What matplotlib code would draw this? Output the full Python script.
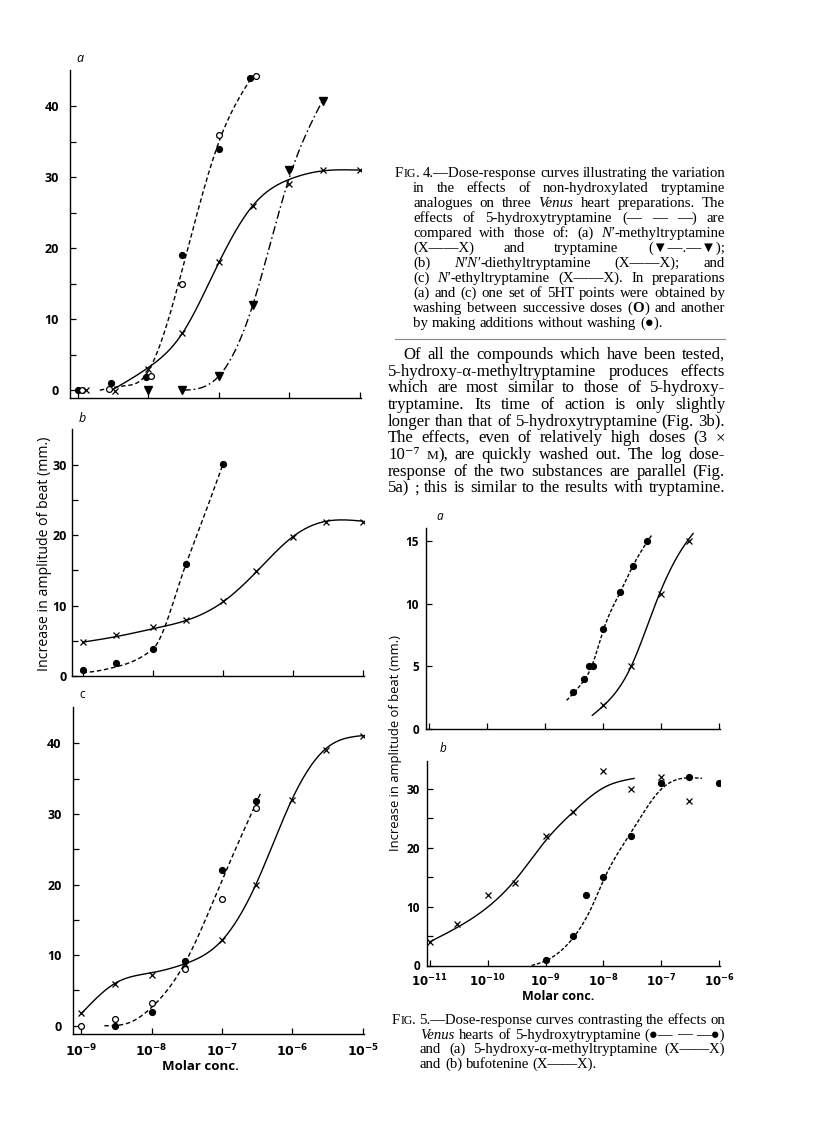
import numpy as np
import matplotlib
matplotlib.use('Agg')
import matplotlib.pyplot as plt
from matplotlib.ticker import FixedLocator, NullFormatter, FixedFormatter

# ---------------- DATA ----------------
# Fig. 4a
a_5ht_fill_x = [1e-9, 2.9e-9, 0.93e-8, 3e-8, 1e-7, 2.75e-7]
a_5ht_fill_y = [0, 1, 1.9, 19, 34, 44]
a_5ht_open_x = [1.14e-9, 2.8e-9, 1.1e-8, 3e-8, 1e-7, 3.3e-7]
a_5ht_open_y = [0, 0.1, 2, 15, 36, 44.2]
a_meth_x = [1.3e-9, 3.3e-9, 1e-8, 3e-8, 1e-7, 3e-7, 1e-6, 3e-6, 1e-5]
a_meth_y = [0, -0.1, 3, 8, 18, 26, 29, 31, 31]
a_tryp_x = [1e-8, 3e-8, 1e-7, 3e-7, 1e-6, 3e-6]
a_tryp_y = [0, 0, 2, 12, 31, 40.8]
# curve knots (log10 dose, response)
a_5ht_curve_lx = [-8.69, -8.35, -8.05, -7.85, -7.52, -7.0, -6.52]
a_5ht_curve_y = [0, 0.6, 2.0, 6.0, 17.0, 35.0, 44.3]
a_meth_curve_lx = [-8.52, -8.0, -7.52, -7.0, -6.52, -6.0, -5.52, -5.0]
a_meth_curve_y = [0, 3.2, 8.0, 18.0, 26.0, 29.7, 30.9, 31.0]
a_tryp_curve_lx = [-7.52, -7.0, -6.52, -6.0, -5.52]
a_tryp_curve_y = [0, 2, 12, 30, 41]

# Fig. 4b
b_5ht_x = [1e-9, 3e-9, 1e-8, 3e-8, 1e-7]
b_5ht_y = [0.8, 1.9, 3.8, 15.9, 30.1]
b_diet_x = [1e-9, 3e-9, 1e-8, 3e-8, 1e-7, 3e-7, 1e-6, 3e-6, 1e-5]
b_diet_y = [4.8, 5.8, 6.9, 8.0, 10.6, 14.9, 19.8, 21.9, 21.9]
b_5ht_curve_lx = [-9.0, -8.52, -8.0, -7.52, -7.0]
b_5ht_curve_y = [0.5, 1.3, 3.8, 16.0, 30.0]
b_diet_curve_lx = [-9.0, -8.52, -8.0, -7.52, -7.0, -6.52, -6.0, -5.52, -5.0]
b_diet_curve_y = [4.8, 5.6, 6.7, 7.9, 10.5, 14.8, 19.8, 22.0, 22.0]

# Fig. 4c
c_5ht_open_x = [1e-9, 3e-9, 1e-8, 3e-8, 1e-7, 3e-7]
c_5ht_open_y = [0, 0.9, 3.2, 8.1, 18, 30.8]
c_5ht_fill_x = [3e-9, 1e-8, 3e-8, 1e-7, 3e-7]
c_5ht_fill_y = [0, 1.9, 9.2, 22, 31.9]
c_eth_x = [1e-9, 3e-9, 1e-8, 3e-8, 1e-7, 3e-7, 1e-6, 3e-6, 1e-5]
c_eth_y = [1.75, 5.9, 7.2, 8.8, 12.1, 20, 32, 39, 41.1]
c_5ht_curve_lx = [-8.67, -8.3, -8.0, -7.52, -7.0, -6.45]
c_5ht_curve_y = [0, 0.5, 2.6, 9.0, 20.6, 33.0]
c_eth_curve_lx = [-9.0, -8.52, -8.0, -7.52, -7.0, -6.52, -6.0, -5.52, -5.0]
c_eth_curve_y = [1.7, 6.0, 7.5, 8.8, 12.1, 20.0, 32.2, 39.3, 41.1]

# Fig. 5a
r_a_5ht_x = [3e-9, 4.7e-9, 5.7e-9, 6.6e-9, 1e-8, 1.95e-8, 3.2e-8, 5.7e-8]
r_a_5ht_y = [3, 4, 5, 5, 8, 10.9, 13, 15]
r_a_amt_x = [1e-8, 3e-8, 1e-7, 3e-7]
r_a_amt_y = [1.9, 5, 10.8, 15]
r_a_5ht_curve_lx = [-8.63, -8.33, -8.2, -7.99, -7.71, -7.49, -7.16]
r_a_5ht_curve_y = [2.3, 3.9, 5.0, 8.0, 10.9, 13.0, 15.5]
r_a_amt_curve_lx = [-8.19, -7.99, -7.53, -7.03, -6.55, -6.45]
r_a_amt_curve_y = [1.1, 1.9, 4.9, 10.8, 15.0, 15.6]

# Fig. 5b
r_b_buf_x = [1e-11, 3e-11, 1e-10, 3e-10, 1e-9, 3e-9, 1e-8, 3e-8, 1e-7, 3e-7]
r_b_buf_y = [4, 7, 12, 14, 22, 26, 33, 30, 32, 28]
r_b_5ht_x = [1e-9, 3e-9, 5e-9, 1e-8, 3e-8, 1e-7, 3e-7, 1e-6]
r_b_5ht_y = [1, 5, 12, 15, 22, 31, 32, 31]
r_b_buf_curve_lx = [-11.0, -10.5, -10.0, -9.5, -9.0, -8.5, -8.0, -7.47]
r_b_buf_curve_y = [4.0, 6.6, 9.9, 14.8, 21.2, 26.3, 30.2, 31.8]
r_b_5ht_curve_lx = [-9.24, -9.0, -8.5, -8.2, -8.0, -7.5, -7.0, -6.5, -6.3]
r_b_5ht_curve_y = [0.0, 0.8, 5.0, 10.0, 14.5, 23.0, 30.0, 31.9, 31.8]

left_xticks = [1e-9, 1e-8, 1e-7, 1e-6, 1e-5]
left_xticklabels = [r'$\mathbf{10^{-9}}$', r'$\mathbf{10^{-8}}$', r'$\mathbf{10^{-7}}$',
                    r'$\mathbf{10^{-6}}$', r'$\mathbf{10^{-5}}$']
right_xticks = [1e-11, 1e-10, 1e-9, 1e-8, 1e-7, 1e-6]
right_xticklabels = [r'$\mathbf{10^{-11}}$', r'$\mathbf{10^{-10}}$', r'$\mathbf{10^{-9}}$',
                     r'$\mathbf{10^{-8}}$', r'$\mathbf{10^{-7}}$', r'$\mathbf{10^{-6}}$']

# ---------------- FIGURE ----------------
W, H = 816, 1122
fig = plt.figure(figsize=(W / 100, H / 100), dpi=100)
fig.patch.set_facecolor('white')
SANS = ['Open Sans', 'DejaVu Sans']
SERIF = ['Liberation Serif', 'DejaVu Serif']


def px_axes(x0, y0, x1, y1):
    return fig.add_axes([x0 / W, 1 - y1 / H, (x1 - x0) / W, (y1 - y0) / H])


def spline(x, y, xs):
    """natural cubic spline through knots"""
    x = np.asarray(x, float); y = np.asarray(y, float)
    n = len(x)
    h = np.diff(x)
    A = np.zeros((n, n)); r = np.zeros(n)
    A[0, 0] = A[-1, -1] = 1.0
    for i in range(1, n - 1):
        A[i, i - 1] = h[i - 1]; A[i, i] = 2 * (h[i - 1] + h[i]); A[i, i + 1] = h[i]
        r[i] = 6 * ((y[i + 1] - y[i]) / h[i] - (y[i] - y[i - 1]) / h[i - 1])
    M = np.linalg.solve(A, r)
    i = np.clip(np.searchsorted(x, xs) - 1, 0, n - 2)
    hi = h[i]
    a = x[i + 1] - xs; b = xs - x[i]
    return (M[i] * a**3 / (6 * hi) + M[i + 1] * b**3 / (6 * hi)
            + (y[i] / hi - M[i] * hi / 6) * a + (y[i + 1] / hi - M[i + 1] * hi / 6) * b)


def pchip(x, y, xs):
    """monotone cubic through knots"""
    x = np.asarray(x, float); y = np.asarray(y, float)
    n = len(x)
    h = np.diff(x); d = np.diff(y) / h
    m = np.zeros(n)
    for k in range(1, n - 1):
        if d[k - 1] * d[k] > 0:
            w1 = 2 * h[k] + h[k - 1]; w2 = h[k] + 2 * h[k - 1]
            m[k] = (w1 + w2) / (w1 / d[k - 1] + w2 / d[k])
    m0 = ((2 * h[0] + h[1]) * d[0] - h[0] * d[1]) / (h[0] + h[1])
    m[0] = m0 if np.sign(m0) == np.sign(d[0]) else 0
    mn = ((2 * h[-1] + h[-2]) * d[-1] - h[-1] * d[-2]) / (h[-1] + h[-2])
    m[-1] = mn if np.sign(mn) == np.sign(d[-1]) else 0
    i = np.clip(np.searchsorted(x, xs) - 1, 0, n - 2)
    t = (xs - x[i]) / h[i]
    return ((2 * t**3 - 3 * t**2 + 1) * y[i] + (t**3 - 2 * t**2 + t) * h[i] * m[i]
            + (-2 * t**3 + 3 * t**2) * y[i + 1] + (t**3 - t**2) * h[i] * m[i + 1])


def curve(ax, lx, y, ls, lw=1.0, method=spline):
    xs = np.linspace(lx[0], lx[-1], 300)
    ax.plot(10 ** xs, method(lx, y, xs), color='black', lw=lw, linestyle=ls,
            solid_capstyle='round', zorder=2)


def style_axes(ax, xlim, ylim, xticks, yticks_major, yticks_minor, ypad, xlabels=None, xpad=5,
               lsize=9):
    ax.set_xscale('log')
    ax.set_xlim(*xlim)
    ax.set_ylim(*ylim)
    for s in ['top', 'right']:
        ax.spines[s].set_visible(False)
    for s in ['left', 'bottom']:
        ax.spines[s].set_linewidth(1.0)
    ax.patch.set_alpha(0)
    ax.xaxis.set_major_locator(FixedLocator(xticks))
    ax.xaxis.set_minor_locator(FixedLocator([]))
    if xlabels is None:
        ax.xaxis.set_major_formatter(NullFormatter())
    else:
        ax.xaxis.set_major_formatter(FixedFormatter(xlabels))
    ax.xaxis.set_minor_formatter(NullFormatter())
    ax.yaxis.set_major_locator(FixedLocator(yticks_major))
    ax.yaxis.set_minor_locator(FixedLocator(yticks_minor))
    ax.set_yticklabels([str(v) for v in yticks_major], fontfamily=SANS, fontweight='bold',
                       fontsize=lsize)
    ax.tick_params(axis='both', which='both', direction='in', length=4.5, width=0.9)
    ax.tick_params(axis='y', which='major', pad=ypad)
    ax.tick_params(axis='x', which='major', pad=xpad, labelsize=lsize)


ms_x = dict(marker='x', ms=4.5, mew=0.9, color='black', ls='none', zorder=3)
ms_dot = dict(marker='o', ms=4.2, mfc='black', mec='black', ls='none', zorder=3)
ms_open = dict(marker='o', ms=4.2, mfc='white', mec='black', mew=0.9, ls='none', zorder=3)
ms_tri = dict(marker='v', ms=5.5, mfc='black', mec='black', ls='none', zorder=3)
DASH = (0, (3.2, 2.0))
DASHDOT = (0, (6, 2.2, 1.2, 2.2))
FINEDASH = (0, (2.6, 1.4))

# ---- Fig 4a ----
ax = px_axes(70, 70, 361, 398)
style_axes(ax, (10 ** -9.113, 10 ** -4.985), (-1.1, 45.1), left_xticks,
           [0, 10, 20, 30, 40], [5, 15, 25, 35], ypad=8)
curve(ax, a_5ht_curve_lx, a_5ht_curve_y, DASH)
curve(ax, a_meth_curve_lx, a_meth_curve_y, '-')
curve(ax, a_tryp_curve_lx, a_tryp_curve_y, DASHDOT)
ax.plot(a_5ht_fill_x, a_5ht_fill_y, **ms_dot)
ax.plot(a_5ht_open_x, a_5ht_open_y, **ms_open)
ax.plot(a_meth_x, a_meth_y, **ms_x)
ax.plot(a_tryp_x, a_tryp_y, **ms_tri)
fig.text(80 / W, 1 - 58 / H, 'a', fontsize=9, style='italic', family=SANS, ha='center', va='center')

# ---- Fig 4b ----
ax = px_axes(72, 429, 364, 676)
style_axes(ax, (10 ** -9.15, 10 ** -4.985), (0, 35.1), left_xticks,
           [0, 10, 20, 30], [5, 15, 25], ypad=4)
curve(ax, b_5ht_curve_lx, b_5ht_curve_y, DASH, method=pchip)
curve(ax, b_diet_curve_lx, b_diet_curve_y, '-')
ax.plot(b_5ht_x, b_5ht_y, **ms_dot)
ax.plot(b_diet_x, b_diet_y, **ms_x)
fig.text(82 / W, 1 - 418 / H, 'b', fontsize=9, style='italic', family=SANS, ha='center', va='center')
fig.text(45 / W, 1 - 554 / H, 'Increase in amplitude of beat (mm.)', rotation=90,
         fontsize=10.2, family=SANS, ha='center', va='center')

# ---- Fig 4c ----
ax = px_axes(72.7, 706.6, 364, 1034.2)
style_axes(ax, (10 ** -9.12, 10 ** -4.985), (-1.2, 45.2), left_xticks,
           [0, 10, 20, 30, 40], [5, 15, 25, 35], ypad=8, xlabels=left_xticklabels, xpad=6)
curve(ax, c_5ht_curve_lx, c_5ht_curve_y, DASH)
curve(ax, c_eth_curve_lx, c_eth_curve_y, '-')
ax.plot(c_5ht_open_x, c_5ht_open_y, **ms_open)
ax.plot(c_5ht_fill_x, c_5ht_fill_y, **ms_dot)
ax.plot(c_eth_x, c_eth_y, **ms_x)
fig.text(82 / W, 1 - 695 / H, 'c', fontsize=8.5, family=SANS, ha='center', va='center')
fig.text(200 / W, 1 - 1067 / H, 'Molar conc.', fontsize=9.5, family=SANS, fontweight='bold',
         ha='center', va='center')

# ---- Fig 5a ----
ax = px_axes(426, 528.3, 720, 729.3)
style_axes(ax, (10 ** -11.05, 10 ** -5.99), (0, 16.0), right_xticks,
           [0, 5, 10, 15], [], ypad=5, lsize=8.5)
curve(ax, r_a_5ht_curve_lx, r_a_5ht_curve_y, FINEDASH)
curve(ax, r_a_amt_curve_lx, r_a_amt_curve_y, '-')
ax.plot(r_a_5ht_x, r_a_5ht_y, **ms_dot)
ax.plot(r_a_amt_x, r_a_amt_y, **ms_x)
fig.text(440 / W, 1 - 516 / H, 'a', fontsize=8.5, style='italic', family=SANS, ha='center', va='center')

# ---- Fig 5b ----
ax = px_axes(426.7, 760.7, 720, 965.5)
style_axes(ax, (10 ** -11.05, 10 ** -5.99), (0, 34.8), right_xticks,
           [0, 10, 20, 30], [5, 15, 25], ypad=5, xlabels=right_xticklabels, xpad=5, lsize=8.5)
curve(ax, r_b_buf_curve_lx, r_b_buf_curve_y, '-')
curve(ax, r_b_5ht_curve_lx, r_b_5ht_curve_y, FINEDASH)
ax.plot(r_b_buf_x, r_b_buf_y, **ms_x)
ax.plot(r_b_5ht_x, r_b_5ht_y, **ms_dot)
fig.text(443 / W, 1 - 749 / H, 'b', fontsize=8.5, style='italic', family=SANS, ha='center', va='center')
fig.text(558 / W, 1 - 996 / H, 'Molar conc.', fontsize=9, family=SANS, fontweight='bold',
         ha='center', va='center')
fig.text(395 / W, 1 - 743 / H, 'Increase in amplitude of beat (mm.)', rotation=90,
         fontsize=9.4, family=SANS, ha='center', va='center')

# ---------------- TEXT ----------------
fig.canvas.draw()
renderer = fig.canvas.get_renderer()


def parse_runs(word):
    runs, buf = [], ''
    st = {'i': False, 's': False, 'b': False}
    for ch in word:
        if ch in '*^!':
            if buf:
                runs.append((buf, dict(st))); buf = ''
            key = {'*': 'i', '^': 's', '!': 'b'}[ch]
            st[key] = not st[key]
        else:
            buf += ch
    if buf:
        runs.append((buf, dict(st)))
    return runs


def make_run(t, st, size):
    return fig.text(0, 0, t, fontsize=size * (0.8 if st['s'] else 1.0), family=SERIF,
                    style='italic' if st['i'] else 'normal',
                    weight='bold' if st['b'] else 'normal',
                    transform=None, ha='left', va='baseline')


def natural_width(line, size):
    words = line.split(' ')
    tot = 0.0
    for w in words:
        for t, st in parse_runs(w):
            r = make_run(t, st, size)
            tot += r.get_window_extent(renderer).width
            r.remove()
    return tot + (len(words) - 1) * size * 100 / 72 * 0.25


def fit_size(lines, x0s, x1, flags, trial=10.0):
    ratio = max(natural_width(ln, trial) / (x1 - x0)
                for ln, x0, f in zip(lines, x0s, flags) if f)
    return trial / ratio


def text_line(x0, x1, ycen, line, size, justify=True):
    words = line.split(' ')
    objs = []
    total = 0.0
    for w in words:
        runs = []
        for t, st in parse_runs(w):
            r = make_run(t, st, size)
            wd = r.get_window_extent(renderer).width
            runs.append((r, wd))
            total += wd
        objs.append(runs)
    if justify and len(words) > 1:
        gap = (x1 - x0 - total) / (len(words) - 1)
    else:
        gap = size * 100 / 72 * 0.25
    x = x0
    ybase = H - (ycen + 4)
    for runs in objs:
        for r, wd in runs:
            r.set_position((x, ybase))
            x += wd
        x += gap


def text_block(lines, x0s, x1, ys, flags):
    size = fit_size(lines, x0s, x1, flags)
    for ln, x0, y, f in zip(lines, x0s, ys, flags):
        text_line(x0, x1, y, ln, size, justify=f)


fig4_lines = [
    'F^IG^. 4.—Dose-response curves illustrating the variation',
    'in the effects of non-hydroxylated tryptamine',
    'analogues on three *Venus* heart preparations. The',
    'effects of 5-hydroxytryptamine (— — —) are',
    'compared with those of: (a) *N′*-methyltryptamine',
    '(X——X) and tryptamine (▼—.—▼);',
    '(b) *N′N′*-diethyltryptamine (X——X); and',
    '(c) *N′*-ethyltryptamine (X——X). In preparations',
    '(a) and (c) one set of 5HT points were obtained by',
    'washing between successive doses (!O!) and another',
    'by making additions without washing (●).',
]
text_block(fig4_lines, [395] + [413] * 10, 725, [173 + 15 * i for i in range(11)],
           [True] * 10 + [False])

fig.add_artist(plt.Line2D([395 / W, 725 / W], [1 - 339 / H, 1 - 339 / H], color='#888888', lw=0.8))

para_lines = [
    'Of all the compounds which have been tested,',
    '5-hydroxy-α-methyltryptamine produces effects',
    'which are most similar to those of 5-hydroxy-',
    'tryptamine. Its time of action is only slightly',
    'longer than that of 5-hydroxytryptamine (Fig. 3b).',
    'The effects, even of relatively high doses (3 ×',
    '10⁻⁷ ^M^), are quickly washed out. The log dose-',
    'response of the two substances are parallel (Fig.',
    '5a) ; this is similar to the results with tryptamine.',
]
text_block(para_lines, [403] + [388] * 8, 725, [355 + 16.67 * i for i in range(9)], [True] * 9)

fig5_lines = [
    'F^IG^. 5.—Dose-response curves contrasting the effects on',
    '*Venus* hearts of 5-hydroxytryptamine (●— — —●)',
    'and (a) 5-hydroxy-α-methyltryptamine (X——X)',
    'and (b) bufotenine (X——X).',
]
text_block(fig5_lines, [392] + [420] * 3, 725, [1020 + 14.6 * i for i in range(4)],
           [True, True, True, False])

fig.savefig('out.png', dpi=100, facecolor='white')
